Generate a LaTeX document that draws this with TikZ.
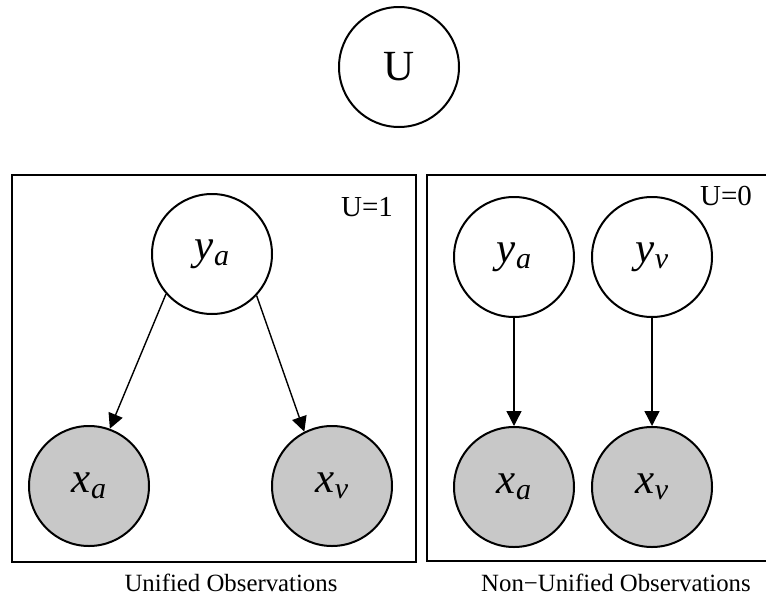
\documentclass[tikz,border=0pt]{standalone}
\usepackage{fontspec}
\setmainfont{Liberation Serif}
\usetikzlibrary{arrows.meta}
\definecolor{obsfill}{RGB}{200,200,200}
% italic variable with a lowered italic index
\newcommand{\rvar}[2]{\textit{#1}\raisebox{-3pt}{\fontsize{15pt}{15pt}\selectfont\textit{#2}}}
\begin{document}
\begin{tikzpicture}[x=0.5pt,y=-0.5pt,
  var/.style={circle,draw,line width=1pt,minimum size=60pt,inner sep=0pt,
    font=\fontsize{21.5pt}{25pt}\selectfont},
  latent/.style={var,fill=white},
  observed/.style={var,fill=obsfill},
  plate/.style={line width=1pt},
  edge/.style={-{Triangle[length=7.5pt,width=7.5pt]},line width=0.7pt},
  tag/.style={font=\fontsize{14.5pt}{17pt}\selectfont},
  caption/.style={font=\fontsize{12.4pt}{15pt}\selectfont}]
\useasboundingbox (0,0) rectangle (766,600);
\clip (0,0) rectangle (766,600);

% switch variable
\node[latent,font=\fontsize{21.5pt}{25pt}\selectfont] (U) at (399,67) {U};

% plate for the unified case
\draw[plate] (12,175) rectangle (416,562);
\node[tag] (u1) at (367,207) {U=1};
\node[latent]   (ya1) at (212,254) {\rvar{y}{a}};
\node[observed] (xa1) at (89,486)  {\rvar{x}{a}};
\node[observed] (xv1) at (332,486) {\rvar{x}{v}};
\draw[edge] (ya1.221) -- (xa1.70);
\draw[edge] (ya1.317) -- (xv1.117);
\node[caption] (cap1) at (231,583) {Unified Observations};

% plate for the non-unified case
\draw[plate] (780,175) -- (427,175) -- (427,561) -- (780,561);
\node[tag] (u0) at (726,196) {U=0};
\node[latent]   (ya2) at (514,257) {\rvar{y}{a}};
\node[latent]   (yv2) at (652,257) {\rvar{y}{v}};
\node[observed] (xa2) at (514,487) {\rvar{x}{a}};
\node[observed] (xv2) at (652,487) {\rvar{x}{v}};
\draw[edge] (ya2) -- (xa2);
\draw[edge] (yv2) -- (xv2);
\node[caption] (cap2) at (616,583) {Non−Unified Observations};
\end{tikzpicture}
\end{document}
